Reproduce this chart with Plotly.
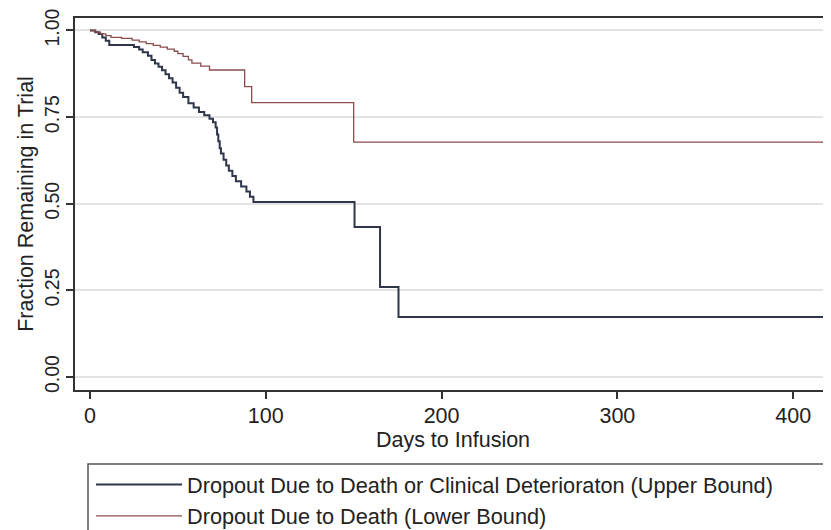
import plotly.graph_objects as go

# Upper bound: dropout due to death or clinical deterioration
blue_days = [0, 3, 5, 7, 9, 11, 25, 28, 30, 33, 35, 37, 39, 41, 43, 45, 47, 49, 51, 53,
             56, 59, 62, 65, 68, 70, 71.5, 72.3, 73, 73.8, 74.5, 76, 77.5, 79, 81, 83,
             86, 89, 91, 93, 150.5, 165, 175.5, 420]
blue_vals = [1.0, 0.995, 0.99, 0.98, 0.97, 0.958, 0.952, 0.945, 0.937, 0.927, 0.915,
             0.905, 0.895, 0.885, 0.874, 0.862, 0.85, 0.835, 0.82, 0.808, 0.79, 0.778,
             0.765, 0.755, 0.745, 0.735, 0.72, 0.70, 0.68, 0.66, 0.645, 0.627, 0.61,
             0.595, 0.58, 0.565, 0.55, 0.535, 0.52, 0.505, 0.433, 0.26, 0.173, 0.0]

# Lower bound: dropout due to death only
red_days = [0, 3, 6, 9, 12, 18, 24, 28, 32, 36, 40, 44, 48, 50, 53, 56, 58, 63, 68,
            88, 92, 150, 420]
red_vals = [1.0, 0.995, 0.99, 0.985, 0.98, 0.977, 0.972, 0.967, 0.962, 0.957, 0.952,
            0.946, 0.94, 0.933, 0.925, 0.915, 0.906, 0.897, 0.886, 0.838, 0.792,
            0.678, 0.678]

x_ticks = [0, 100, 200, 300, 400]
y_ticks = [0, 0.25, 0.5, 0.75, 1.0]

FONT = "Liberation Sans, Arial, Helvetica, sans-serif"
FS = 21.5

# page body has an 8px margin: figure is sized so it fits the 831x530 window
W, H = 823, 522
PL, PT = 67, 10          # plot area left / top inside figure
PW, PH = 756, 372        # plot area size

def px_x(sx):            # window x -> paper x
    return (sx - 8 - PL) / PW

def px_y(sy):            # window y -> paper y
    return (PT + PH - (sy - 8)) / PH

fig = go.Figure()
fig.add_trace(go.Scatter(
    x=blue_days, y=blue_vals, mode="lines", line_shape="hv",
    line=dict(color="#2f364b", width=2),
    name="Dropout Due to Death or Clinical Deterioraton (Upper Bound)",
    legendgroup="a"))
fig.add_trace(go.Scatter(
    x=red_days, y=red_vals, mode="lines", line_shape="hv",
    line=dict(color="#8b4c4c", width=1.3),
    name="Dropout Due to Death (Lower Bound)",
    legendgroup="b"))

fig.update_layout(
    width=W, height=H,
    margin=dict(l=PL, r=W - PL - PW, t=PT, b=H - PT - PH, autoexpand=False),
    paper_bgcolor="white", plot_bgcolor="white",
    font=dict(family=FONT, size=FS, color="#222"),
    showlegend=True,
    legend=dict(x=px_x(91), y=px_y(464), xanchor="left", yanchor="top",
                orientation="v", itemwidth=86, tracegroupgap=0,
                font=dict(size=21.7, color="#222"),
                bgcolor="rgba(0,0,0,0)", borderwidth=0),
    xaxis=dict(range=[-8.5, 421.5], tickvals=x_ticks, ticks="outside", ticklen=7,
               tickwidth=1.5, tickcolor="#333", showgrid=False, zeroline=False,
               showline=True, linecolor="#333", linewidth=2, mirror=True,
               automargin=False, tickfont=dict(size=FS), ticklabelstandoff=-2,
               ticklabeloverflow="allow",
               title=dict(text="Days to Infusion", font=dict(size=FS), standoff=0)),
    yaxis=dict(range=[-0.0375, 1.036], tickvals=y_ticks, tickformat=".2f",
               ticks="outside", ticklen=7, tickwidth=1.5, tickcolor="#333",
               tickangle=-90, ticklabelstandoff=-1, ticklabeloverflow="allow",
               showgrid=True, gridcolor="#e4e4e4",
               gridwidth=1.5, zeroline=False, showline=True, linecolor="#333",
               linewidth=2, automargin=False, tickfont=dict(size=19.5),
               title=dict(text="Fraction Remaining in Trial", font=dict(size=FS),
                          standoff=2)),
    shapes=[dict(type="rect", xref="paper", yref="paper",
                 x0=px_x(88), x1=px_x(845),
                 y0=px_y(545), y1=px_y(464),
                 line=dict(color="#555", width=1.5), fillcolor="rgba(0,0,0,0)")],
)

fig.write_html("out.html")
